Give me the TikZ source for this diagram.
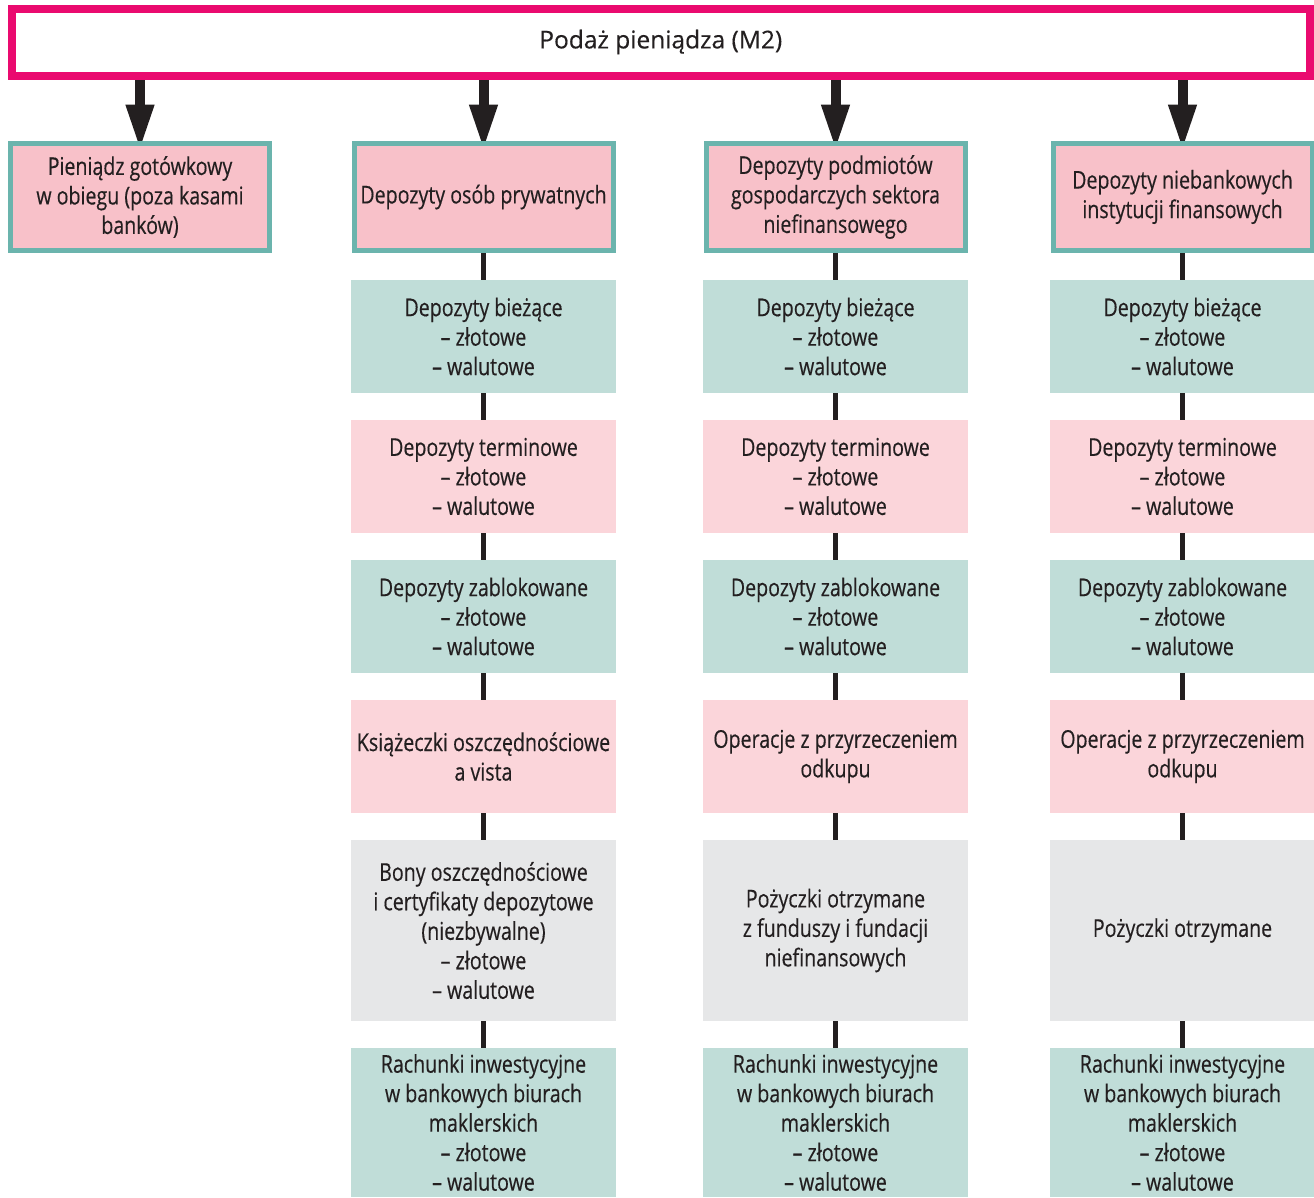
\documentclass[tikz,border=0pt]{standalone}
\usepackage{fontspec}
\setmainfont[FakeStretch=0.8, FakeBold=0.35]{Open Sans}
\newfontfamily\widefont[FakeBold=0.35]{Open Sans}
\usetikzlibrary{arrows.meta,backgrounds}
\definecolor{magentaB}{HTML}{EA0A6F}
\definecolor{tealB}{HTML}{6BB4AD}
\definecolor{pinkA}{HTML}{F8C1C9}
\definecolor{pinkL}{HTML}{FBD5DA}
\definecolor{tealL}{HTML}{C0DDD8}
\definecolor{grayL}{HTML}{E6E7E8}
\definecolor{ink}{HTML}{231F20}
\begin{document}
\begin{tikzpicture}[x=1pt,y=-1pt,
  every node/.style={font=\fontsize{24.5}{29.5}\selectfont, text=ink, align=center, inner sep=2pt},
  topbox/.style={draw=magentaB, line width=8pt, fill=white, minimum width=1298.5pt, minimum height=67pt,
                 font=\widefont\fontsize{24.5}{29.5}\selectfont},
  catbox/.style={draw=tealB, line width=5pt, fill=pinkA, minimum width=259pt, minimum height=107pt},
  subbox/.style={minimum width=265pt, minimum height=113pt},
  tealbox/.style={subbox, fill=tealL},
  pinkbox/.style={subbox, fill=pinkL},
  graybox/.style={subbox, fill=grayL, minimum height=181pt},
  lastbox/.style={subbox, fill=tealL, minimum height=149pt},
  bigarrow/.style={draw=ink, line width=10pt, -{Triangle[length=46pt,width=26pt]}},
  chain/.style={draw=ink, line width=5.5pt}
]
\useasboundingbox (0,0) rectangle (1314,1197);

\node[topbox] (top) at (660.75,42) {Podaż pieniądza (M2)};

\node[catbox] (k1) at (140,197) {Pieniądz gotówkowy\\w obiegu (poza kasami\\banków)};
\node[catbox] (k2) at (483.5,197) {Depozyty osób prywatnych};
\node[catbox] (k3) at (835.5,197) {Depozyty podmiotów\\gospodarczych sektora\\niefinansowego};
\node[catbox] (k4) at (1182.5,197) {Depozyty niebankowych\\instytucji finansowych};

% column 2
\node[tealbox] (a1) at (483.5,336.5) {Depozyty bieżące\\– złotowe\\– walutowe};
\node[pinkbox] (a2) at (483.5,476.5) {Depozyty terminowe\\– złotowe\\– walutowe};
\node[tealbox] (a3) at (483.5,616.5) {Depozyty zablokowane\\– złotowe\\– walutowe};
\node[pinkbox] (a4) at (483.5,756.5) {Książeczki oszczędnościowe\\a vista};
\node[graybox] (a5) at (483.5,930.5) {Bony oszczędnościowe\\i certyfikaty depozytowe\\(niezbywalne)\\– złotowe\\– walutowe};
\node[lastbox] (a6) at (483.5,1122.5) {Rachunki inwestycyjne\\w bankowych biurach\\maklerskich\\– złotowe\\– walutowe};

% column 3
\node[tealbox] (b1) at (835.5,336.5) {Depozyty bieżące\\– złotowe\\– walutowe};
\node[pinkbox] (b2) at (835.5,476.5) {Depozyty terminowe\\– złotowe\\– walutowe};
\node[tealbox] (b3) at (835.5,616.5) {Depozyty zablokowane\\– złotowe\\– walutowe};
\node[pinkbox] (b4) at (835.5,756.5) {Operacje z przyrzeczeniem\\odkupu};
\node[graybox] (b5) at (835.5,930.5) {Pożyczki otrzymane\\z funduszy i fundacji\\niefinansowych};
\node[lastbox] (b6) at (835.5,1122.5) {Rachunki inwestycyjne\\w bankowych biurach\\maklerskich\\– złotowe\\– walutowe};

% column 4
\node[tealbox] (c1) at (1182.5,336.5) {Depozyty bieżące\\– złotowe\\– walutowe};
\node[pinkbox] (c2) at (1182.5,476.5) {Depozyty terminowe\\– złotowe\\– walutowe};
\node[tealbox] (c3) at (1182.5,616.5) {Depozyty zablokowane\\– złotowe\\– walutowe};
\node[pinkbox] (c4) at (1182.5,756.5) {Operacje z przyrzeczeniem\\odkupu};
\node[graybox] (c5) at (1182.5,930.5) {Pożyczki otrzymane};
\node[lastbox] (c6) at (1182.5,1122.5) {Rachunki inwestycyjne\\w bankowych biurach\\maklerskich\\– złotowe\\– walutowe};

\begin{pgfonlayer}{background}
  \foreach \k in {k1,k2,k3,k4}
    \draw[bigarrow] (top.south -| \k.north) -- ([yshift=-9.5pt]\k.north);
  \draw[chain] (k2.south) -- (a1.north) (a1.south) -- (a2.north) (a2.south) -- (a3.north)
               (a3.south) -- (a4.north) (a4.south) -- (a5.north) (a5.south) -- (a6.north);
  \draw[chain] (k3.south) -- (b1.north) (b1.south) -- (b2.north) (b2.south) -- (b3.north)
               (b3.south) -- (b4.north) (b4.south) -- (b5.north) (b5.south) -- (b6.north);
  \draw[chain] (k4.south) -- (c1.north) (c1.south) -- (c2.north) (c2.south) -- (c3.north)
               (c3.south) -- (c4.north) (c4.south) -- (c5.north) (c5.south) -- (c6.north);
\end{pgfonlayer}
\end{tikzpicture}
\end{document}
